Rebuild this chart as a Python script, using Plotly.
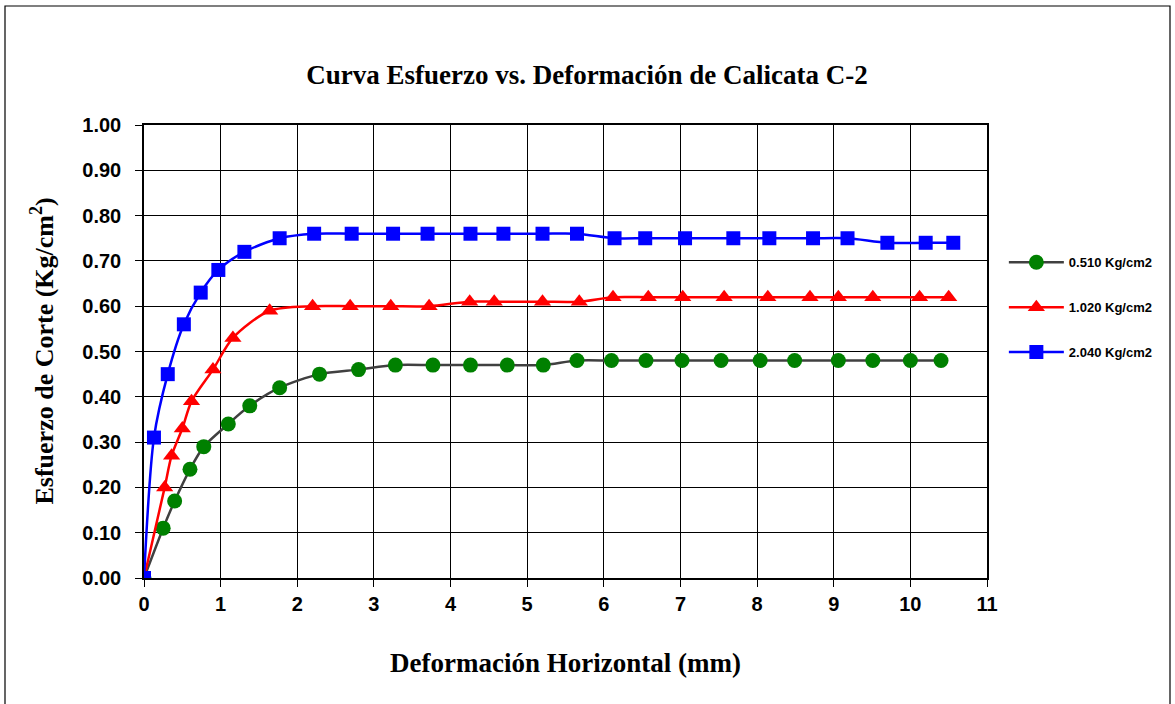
import plotly.graph_objects as go

# Data
x_0510 = [0, 0.25, 0.40, 0.60, 0.78, 1.10, 1.38, 1.77, 2.29, 2.80, 3.28, 3.77, 4.26, 4.74, 5.21,
          5.65, 6.10, 6.55, 7.02, 7.53, 8.04, 8.49, 9.06, 9.51, 10.00, 10.40]
y_0510 = [0, 0.11, 0.17, 0.24, 0.29, 0.34, 0.38, 0.42, 0.45, 0.46, 0.47, 0.47, 0.47, 0.47, 0.47,
          0.48, 0.48, 0.48, 0.48, 0.48, 0.48, 0.48, 0.48, 0.48, 0.48, 0.48]

x_1020 = [0, 0.27, 0.36, 0.50, 0.62, 0.90, 1.16, 1.64, 2.20, 2.69, 3.22, 3.72, 4.25, 4.57, 5.20,
          5.68, 6.12, 6.58, 7.03, 7.57, 8.14, 8.69, 9.06, 9.51, 10.12, 10.50]
y_1020 = [0, 0.20, 0.27, 0.33, 0.39, 0.46, 0.53, 0.59, 0.60, 0.60, 0.60, 0.60, 0.61, 0.61, 0.61,
          0.61, 0.62, 0.62, 0.62, 0.62, 0.62, 0.62, 0.62, 0.62, 0.62, 0.62]

x_2040 = [0, 0.13, 0.31, 0.52, 0.74, 0.97, 1.31, 1.77, 2.22, 2.71, 3.25, 3.70, 4.26, 4.69, 5.20,
          5.65, 6.14, 6.54, 7.06, 7.69, 8.16, 8.73, 9.18, 9.70, 10.20, 10.56]
y_2040 = [0, 0.31, 0.45, 0.56, 0.63, 0.68, 0.72, 0.75, 0.76, 0.76, 0.76, 0.76, 0.76, 0.76, 0.76,
          0.76, 0.75, 0.75, 0.75, 0.75, 0.75, 0.75, 0.75, 0.74, 0.74, 0.74]

series_names = ["0.510 Kg/cm2", "1.020 Kg/cm2", "2.040 Kg/cm2"]
x_ticks = list(range(0, 12))
y_ticks = [i / 10 for i in range(0, 11)]

SANS = "Liberation Sans, Arial, sans-serif"
SERIF = "Liberation Serif, Times New Roman, serif"

W, H = 1175, 704
PL, PR, PT, PB = 144, 987, 125, 578  # plot area in page pixels
PW, PH = PR - PL, PB - PT

fig = go.Figure()
fig.add_trace(go.Scatter(
    x=x_0510, y=y_0510, name=series_names[0], mode="lines+markers",
    line=dict(color="#404040", width=2.5, shape="spline", smoothing=0.8),
    marker=dict(symbol="circle", size=15, color="#008000"),
    legendgroup="a"))
fig.add_trace(go.Scatter(
    x=x_1020, y=y_1020, name=series_names[1], mode="lines+markers",
    line=dict(color="#FF0000", width=2.5, shape="spline", smoothing=0.8),
    marker=dict(symbol="triangle-up", size=15, color="#FF0000"),
    legendgroup="b"))
fig.add_trace(go.Scatter(
    x=x_2040, y=y_2040, name=series_names[2], mode="lines+markers",
    line=dict(color="#0000FF", width=2.5, shape="spline", smoothing=0.8),
    marker=dict(symbol="square", size=14, color="#0000FF"),
    legendgroup="c"))

axis_common = dict(
    showgrid=True, gridcolor="#000000", gridwidth=1,
    showline=True, linecolor="#000000", linewidth=1.5, mirror=True,
    ticks="outside", ticklen=7, tickcolor="#000000", tickwidth=1,
    zeroline=False,
    tickfont=dict(family=SANS, size=20, color="#000000", weight="bold"),
)

fig.update_xaxes(range=[0, 11], tickvals=x_ticks, **axis_common)
fig.update_yaxes(range=[0, 1.0], tickvals=y_ticks, tickformat=".2f",
                 ticklabelstandoff=10, **axis_common)

fig.update_layout(
    width=W, height=H,
    margin=dict(l=PL, r=W - PR, t=PT, b=H - PB),
    paper_bgcolor="#FFFFFF", plot_bgcolor="#FFFFFF",
    title=dict(text="<b>Curva Esfuerzo vs. Deformación de Calicata C-2</b>",
               x=587 / W, xanchor="center", y=1 - 75 / H, yanchor="middle",
               font=dict(family=SERIF, size=27, color="#000000")),
    legend=dict(x=1.02, y=0.73, xanchor="left", yanchor="top",
                font=dict(family=SANS, size=13, color="#000000", weight="bold"),
                tracegroupgap=25, itemwidth=55, bgcolor="rgba(0,0,0,0)"),
    showlegend=True,
    annotations=[
        dict(text="<b>Deformación Horizontal (mm)</b>", xref="paper", yref="paper",
             x=(565 - PL) / PW, y=(PB - 663) / PH, xanchor="center", yanchor="middle",
             showarrow=False, font=dict(family=SERIF, size=27, color="#000000")),
        dict(text="<b>Esfuerzo de Corte (Kg/cm<sup>2</sup>)</b>", xref="paper", yref="paper",
             x=(43 - PL) / PW, y=0.5, xanchor="center", yanchor="middle", textangle=-90,
             showarrow=False, font=dict(family=SERIF, size=26, color="#000000")),
    ],
    shapes=[
        dict(type="rect", xref="paper", yref="paper",
             x0=(5 - PL) / PW, x1=(1170 - PL) / PW,
             y0=(PB - 720) / PH, y1=(PB - 6) / PH,
             line=dict(color="#000000", width=1.2), fillcolor="rgba(0,0,0,0)", layer="below"),
    ],
)

fig.write_html(
    "out.html",
    config={"displayModeBar": False},
    post_script="document.body.style.margin='0px';document.body.style.overflow='hidden';",
)
